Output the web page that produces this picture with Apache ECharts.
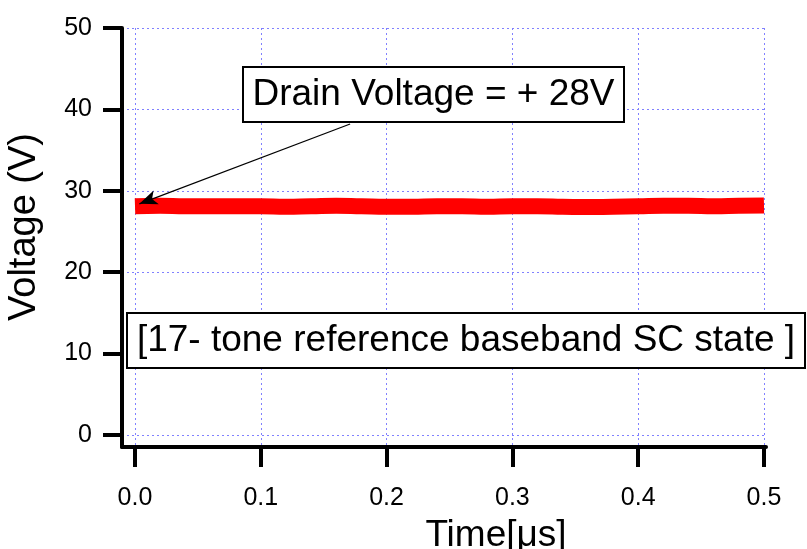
<!DOCTYPE html>
<html>
<head>
<meta charset="utf-8">
<style>html,body{margin:0;padding:0;background:#fff;}#c{width:807px;height:549px;}</style>
<script src="https://cdn.jsdelivr.net/npm/echarts@6/dist/echarts.min.js"></script>
</head>
<body>
<div id="c"></div>
<script>
// Data
const timeUs = [0.00,0.02,0.04,0.06,0.08,0.10,0.12,0.14,0.16,0.18,0.20,0.22,0.24,0.26,0.28,0.30,0.32,0.34,0.36,0.38,0.40,0.42,0.44,0.46,0.48,0.50];
const drainVoltage = [28.1,28.15,28.1,28.1,28.1,28.1,28.05,28.1,28.15,28.1,28.05,28.05,28.1,28.1,28.05,28.1,28.1,28.05,28.0,28.05,28.1,28.15,28.15,28.1,28.15,28.2];
const xTicks = [0,0.1,0.2,0.3,0.4,0.5];
const yTicks = [0,10,20,30,40,50];
const arrowFrom = [0.171, 38.2];
const arrowTo = [0.0035, 28.4];
const label1 = 'Drain Voltage = + 28V';
const label2 = '[17- tone reference baseband SC state ]';

const FONT = 'Liberation Sans, Arial, sans-serif';
const chart = echarts.init(document.getElementById('c'), null, {renderer:'canvas'});
const gridLine = {show:true, lineStyle:{color:'#8080ff', width:1, type:[2,3]}};
chart.setOption({
  animation:false,
  backgroundColor:'#ffffff',
  grid:{left:122, right:41, top:28, bottom:102, containLabel:false, outerBoundsMode:'none'},
  xAxis:{
    type:'value', min:-0.01033, max:0.5016,
    name:'Time[μs]', nameLocation:'middle', nameGap:70,
    nameTextStyle:{fontFamily:FONT, fontSize:37, color:'#000', padding:[0,0,0,104]},
    axisLine:{show:true, onZero:false, lineStyle:{color:'#000', width:4}},
    axisTick:{show:true, inside:false, length:20, customValues:xTicks, lineStyle:{color:'#000', width:4}},
    axisLabel:{show:true, customValues:xTicks, margin:39, fontFamily:FONT, fontSize:25, color:'#000', formatter:v=>v.toFixed(1)},
    splitLine:gridLine
  },
  yAxis:{
    type:'value', min:-1.474, max:50,
    name:'Voltage (V)', nameLocation:'middle', nameGap:78, nameRotate:90,
    nameTextStyle:{fontFamily:FONT, fontSize:38, color:'#000', padding:[0,0,0,21]},
    axisLine:{show:true, onZero:false, lineStyle:{color:'#000', width:4}},
    axisTick:{show:true, inside:false, length:19, customValues:yTicks, lineStyle:{color:'#000', width:4}},
    axisLabel:{show:true, customValues:yTicks, margin:30, fontFamily:FONT, fontSize:25, color:'#000'},
    splitLine:gridLine
  },
  series:[{
    type:'line', name:'Drain Voltage',
    data: timeUs.map((t,i)=>[t, drainVoltage[i]]),
    showSymbol:false, smooth:true,
    lineStyle:{color:'#ff0000', width:16, cap:'butt'},
    z:3,
    markLine:{
      silent:true, symbol:['none','arrow'], symbolSize:[11,18],
      label:{show:false},
      lineStyle:{color:'#000', width:1.2, type:'solid'},
      data:[[{coord:arrowFrom},{coord:arrowTo}]],
      z:5
    }
  }],
  graphic:[
    {type:'rect', shape:{x:243, y:67, width:381, height:55}, style:{fill:'#fff', stroke:'#000', lineWidth:2}, z:10},
    {type:'text', x:433.5, y:95, style:{text:label1, font:'37px '+FONT, fill:'#000', textAlign:'center', textVerticalAlign:'middle'}, z:11},
    {type:'rect', shape:{x:127, y:313, width:678, height:55}, style:{fill:'#fff', stroke:'#000', lineWidth:2}, z:10},
    {type:'text', x:466, y:341, style:{text:label2, font:'37px '+FONT, fill:'#000', textAlign:'center', textVerticalAlign:'middle'}, z:11}
  ]
});
</script>
</body>
</html>
